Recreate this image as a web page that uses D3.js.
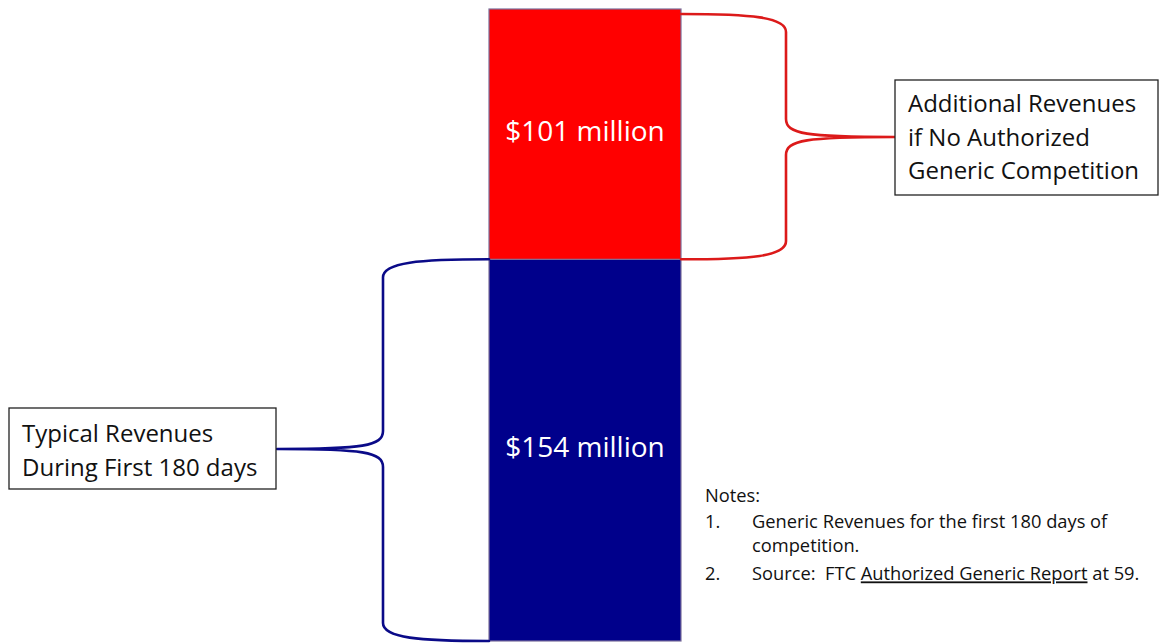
<!DOCTYPE html>
<html>
<head>
<meta charset="utf-8">
<script src="https://cdn.jsdelivr.net/npm/d3@7"></script>
<style>
    body { margin: 0; background: #fff; }
    svg { display: block; font-family: "Open Sans", Lato, sans-serif; }
</style>
</head>
<body>
<div id="chart-container"></div>
<script>
// data
const segments = ["Typical Revenues", "Additional Revenues"];
const values = [154, 101];
const valueLabels = ["$154 million", "$101 million"];
const calloutLines = [
    ["Typical Revenues", "During First 180 days"],
    ["Additional Revenues", "if No Authorized", "Generic Competition"]
];
const noteLines = [
    "Generic Revenues for the first 180 days of|competition.",
    "Source:\u00a0\u00a0FTC |Authorized Generic Report| at 59."
];

const width = 1160;
const height = 643;
const colors = ["#00008b", "#ff0000"];
const braceColors = ["#0a0a88", "#dc1a1a"];

const svg = d3.select("#chart-container")
    .append("svg")
    .attr("width", width)
    .attr("height", height);

// stacked bar
let cum = 0;
const stacked = values.map((v, i) => {
    const d = { key: segments[i], y0: cum, y1: cum + v, label: valueLabels[i] };
    cum += v;
    return d;
});

const xScale = d3.scaleBand()
    .domain(["revenues"])
    .range([489, 681])
    .padding(0);

const yScale = d3.scaleLinear()
    .domain([0, d3.sum(values)])
    .range([641, 9]);

const barX = xScale("revenues");
const barW = xScale.bandwidth();

svg.selectAll(".bar")
    .data(stacked)
    .enter()
    .append("rect")
    .attr("class", "bar")
    .attr("x", barX)
    .attr("width", barW)
    .attr("y", d => yScale(d.y1))
    .attr("height", d => yScale(d.y0) - yScale(d.y1))
    .style("fill", (d, i) => colors[i])
    .style("stroke", "#7b6f9c")
    .style("stroke-width", 1.2);

svg.selectAll(".bar-label")
    .data(stacked)
    .enter()
    .append("text")
    .attr("class", "bar-label")
    .attr("x", barX + barW / 2)
    .attr("y", d => (yScale(d.y0) + yScale(d.y1)) / 2 - 3)
    .attr("dy", "0.35em")
    .attr("text-anchor", "middle")
    .style("fill", "#fff")
    .style("font-size", "28px")
    .text(d => d.label);

// curly brace: x0 = attach edge, vx = vertical line, tip = box point
function bracePath(x0, yA, yB, vx, tipX, tipY) {
    const s = Math.sign(vx - x0);
    const r = 18;
    const p = d3.path();
    p.moveTo(x0, yA);
    p.bezierCurveTo(x0 + s * 70, yA, vx, yA + 3, vx, yA + r);
    p.lineTo(vx, tipY - r);
    p.bezierCurveTo(vx, tipY - 3, vx + s * 20, tipY, tipX, tipY);
    p.moveTo(tipX, tipY);
    p.bezierCurveTo(vx + s * 20, tipY, vx, tipY + 3, vx, tipY + r);
    p.lineTo(vx, yB - r);
    p.bezierCurveTo(vx, yB - 3, x0 + s * 70, yB, x0, yB);
    return p.toString();
}

const braces = [
    { x0: barX, yA: yScale(stacked[0].y1), yB: yScale(stacked[0].y0), vx: 383, tipX: 277, tipY: 449 },
    { x0: barX + barW, yA: yScale(stacked[1].y1) + 5, yB: yScale(stacked[1].y0), vx: 786, tipX: 895, tipY: 137 }
];

svg.selectAll(".brace")
    .data(braces)
    .enter()
    .append("path")
    .attr("class", "brace")
    .attr("d", d => bracePath(d.x0, d.yA, d.yB, d.vx, d.tipX, d.tipY))
    .style("fill", "none")
    .style("stroke", (d, i) => braceColors[i])
    .style("stroke-width", 2.6)
    .style("stroke-linecap", "round");

// callout boxes
const boxes = [
    { x: 9, y: 408, w: 267, h: 81, tx: 22, ty: 434 },
    { x: 895, y: 80, w: 263, h: 115, tx: 908, ty: 104 }
];

boxes.forEach((b, i) => {
    svg.append("rect")
        .attr("x", b.x)
        .attr("y", b.y)
        .attr("width", b.w)
        .attr("height", b.h)
        .style("fill", "#fff")
        .style("stroke", "#222")
        .style("stroke-width", 1.3);

    const t = svg.append("text")
        .style("font-size", "24px")
        .style("fill", "#111");
    calloutLines[i].forEach((line, j) => {
        t.append("tspan")
            .attr("x", b.tx)
            .attr("y", b.ty + j * 33.5)
            .attr("dy", "0.35em")
            .text(line);
    });
});

// notes
const notes = svg.append("g")
    .style("font-size", "18.3px")
    .style("fill", "#111");

notes.append("text")
    .attr("x", 705)
    .attr("y", 496)
    .attr("dy", "0.35em")
    .text("Notes:");

const noteY = [522, 574];
noteLines.forEach((n, i) => {
    notes.append("text")
        .attr("x", 705)
        .attr("y", noteY[i])
        .attr("dy", "0.35em")
        .text((i + 1) + ".");
    if (i === 0) {
        n.split("|").forEach((line, j) => {
            notes.append("text")
                .attr("x", 752)
                .attr("y", noteY[i] + j * 24)
                .attr("dy", "0.35em")
                .text(line);
        });
    } else {
        const t = notes.append("text")
            .attr("x", 752)
            .attr("y", noteY[i])
            .attr("dy", "0.35em");
        n.split("|").forEach((part, j) => {
            t.append("tspan")
                .style("text-decoration", j === 1 ? "underline" : null)
                .text(part);
        });
    }
});
</script>
</body>
</html>
